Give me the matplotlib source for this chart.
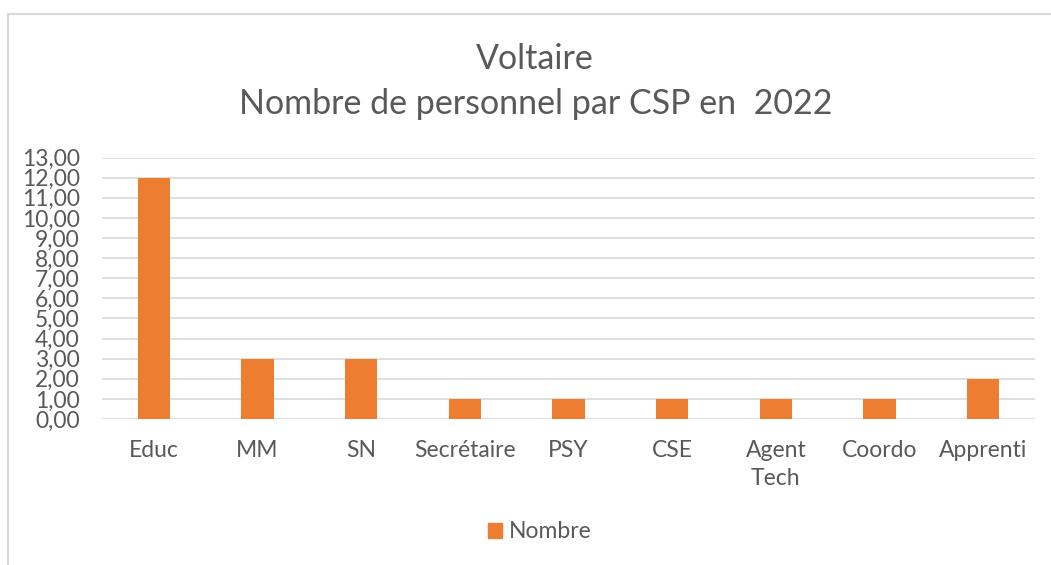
import matplotlib.pyplot as plt
from matplotlib.lines import Line2D
from matplotlib.patches import Patch
import numpy as np

categories = ['Educ', 'MM', 'SN', 'Secrétaire', 'PSY', 'CSE', 'Agent\nTech', 'Coordo', 'Apprenti']
nombre = [12, 3, 3, 1, 1, 1, 1, 1, 2]
y_ticks = np.arange(0, 14, 1)

orange = '#ED7D31'
grey_txt = '#595959'
plt.rcParams['font.family'] = ['Lato', 'DejaVu Sans']

W, H = 1051, 565
fig = plt.figure(figsize=(W / 100, H / 100), dpi=100)
ax = fig.add_axes([102 / W, 1 - 419 / H, 933 / W, 261.5 / H])

x = np.arange(len(categories))
ax.bar(x, nombre, width=0.31, color=orange, zorder=3, label='Nombre')
ax.set_xlim(-0.5, len(categories) - 0.5)
ax.set_ylim(0, 13)
ax.set_yticks(y_ticks)
ax.set_yticklabels([f'{v:.2f}'.replace('.', ',') for v in y_ticks])
ax.set_xticks(x)
ax.set_xticklabels(categories, linespacing=1.4)
ax.tick_params(axis='y', length=0, pad=16, labelsize=16.5, colors=grey_txt)
ax.tick_params(axis='x', length=0, pad=15, labelsize=16.5, colors=grey_txt)
ax.grid(axis='y', color='#D9D9D9', lw=1.2, zorder=0)
for s in ax.spines.values():
    s.set_visible(False)

fig.text(535 / W, 1 - 59 / H, 'Voltaire', ha='center', va='center', fontsize=24.5, color=grey_txt)
fig.text(536 / W, 1 - 104 / H, 'Nombre de personnel par CSP en  2022', ha='center', va='center',
         fontsize=24.5, color=grey_txt)

fig.legend(handles=[Patch(color=orange, label='Nombre')], loc='center',
           bbox_to_anchor=(540 / W, 1 - 532 / H), frameon=False, fontsize=16.5,
           handlelength=0.6, handleheight=0.6, handletextpad=0.3, labelcolor=grey_txt)

# chart border (only left and top visible in the crop)
fig.add_artist(Line2D([7.5 / W, 7.5 / W], [0, 1 - 13.5 / H], color='#D9D9D9', lw=1.5))
fig.add_artist(Line2D([7.5 / W, 1], [1 - 13.5 / H, 1 - 13.5 / H], color='#D9D9D9', lw=1.5))

fig.savefig('out.png', dpi=100)
